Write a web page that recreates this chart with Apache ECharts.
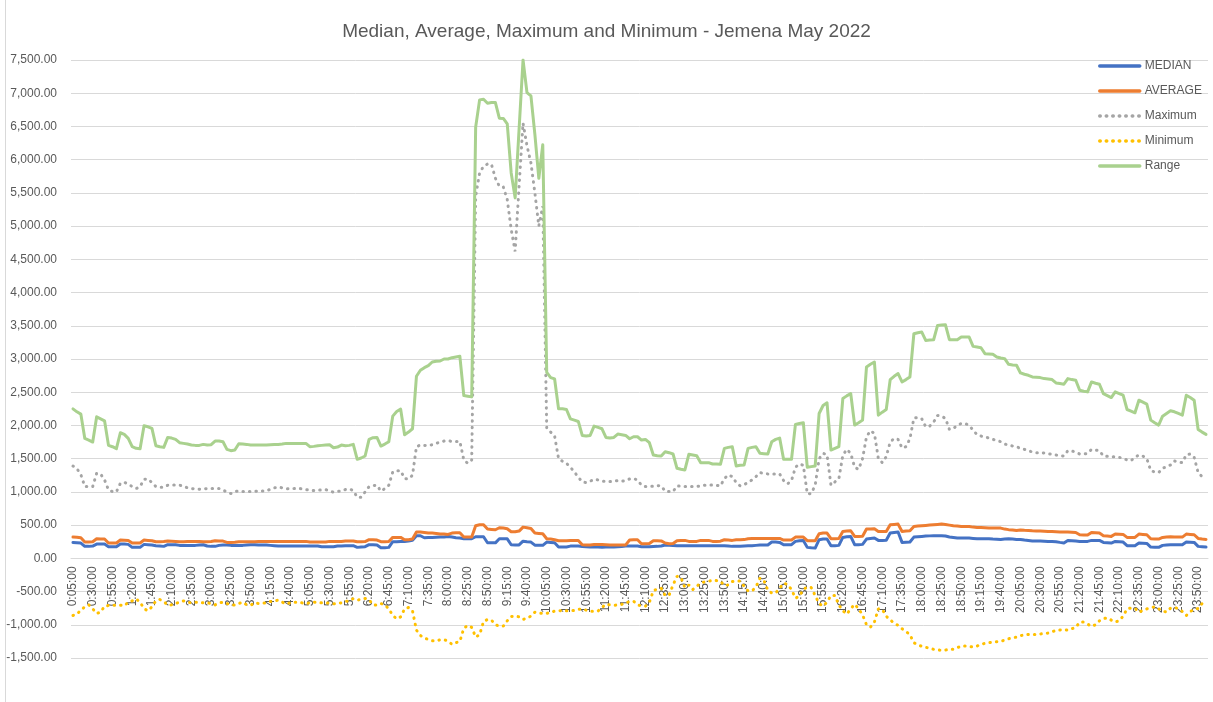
<!DOCTYPE html>
<html>
<head>
<meta charset="utf-8">
<script src="https://cdn.jsdelivr.net/npm/echarts@6/dist/echarts.min.js"></script>
<style>
html,body{margin:0;padding:0;background:#fff;}
#chart{width:1213px;height:702px;}
</style>
</head>
<body>
<div id="chart"></div>
<script>
// categories: 5-minute intervals 0:05:00 ... 0:00:00 (288)
const categories = [];
for (let m = 5; m <= 1440; m += 5) {
  const h = Math.floor(m / 60) % 24, mm = m % 60;
  categories.push(h + ':' + String(mm).padStart(2, '0') + ':00');
}

const median = [
240,235,230,180,180,185,215,215,215,175,175,175,
215,215,210,165,165,165,210,205,200,190,185,180,
205,205,205,195,195,195,195,195,200,205,185,180,
180,195,200,200,195,195,195,195,200,205,205,200,
200,200,195,190,185,185,185,185,185,185,185,185,
185,185,185,175,175,175,175,185,185,190,190,190,
165,170,175,205,205,200,160,160,165,250,250,255,
255,260,270,340,340,310,315,315,318,320,320,330,
320,310,305,295,295,295,325,325,325,235,233,233,
294,294,294,205,202,202,258,250,245,198,196,196,
245,240,235,172,172,172,184,184,184,178,175,172,
172,170,168,170,172,172,175,178,184,184,184,184,
175,175,175,178,180,185,200,195,192,190,190,190,
190,190,190,190,190,190,190,190,190,190,185,180,
180,182,185,188,190,195,200,200,200,245,245,240,
205,205,205,255,265,270,165,158,155,280,290,290,
190,190,195,315,325,330,205,205,210,290,300,305,
270,270,272,380,390,395,240,242,245,320,325,330,
335,338,340,340,340,335,320,312,305,305,305,305,
300,295,295,295,295,290,288,285,290,295,290,285,
285,275,268,262,260,260,258,255,252,250,240,232,
270,265,260,255,255,255,270,270,270,240,235,230,
255,250,245,190,190,190,230,228,225,170,168,165,
195,200,205,205,205,205,245,242,240,180,175,170
];

const average = [
320,318,310,245,245,250,295,292,290,230,230,232,
275,272,270,230,230,232,275,270,265,250,250,252,
260,258,255,250,250,252,255,255,255,250,250,252,
265,262,260,240,240,242,250,250,250,250,250,255,
255,255,255,255,255,255,255,255,255,255,255,255,
245,245,245,245,245,255,255,255,255,262,262,262,
250,250,252,280,280,275,250,250,252,315,315,315,
280,280,290,395,395,390,380,380,375,365,365,360,
380,385,385,320,320,320,490,505,505,440,435,430,
460,455,445,400,400,410,470,460,450,380,375,370,
295,290,280,265,264,264,268,270,270,205,202,202,
208,209,209,205,202,202,202,202,202,275,280,280,
220,220,222,265,265,262,230,220,222,265,268,270,
255,255,255,270,270,270,255,255,258,280,275,270,
280,280,282,295,298,300,300,300,300,300,300,300,
275,275,275,320,320,320,265,265,265,370,380,380,
295,295,298,405,410,415,330,330,332,440,442,445,
405,405,405,505,510,515,405,410,415,480,485,490,
495,500,505,510,515,510,500,490,485,480,480,480,
470,465,465,462,458,455,455,455,440,432,428,420,
428,422,420,415,412,410,408,405,402,400,398,395,
395,393,390,355,352,350,390,385,380,340,335,330,
365,362,360,315,315,315,365,360,355,295,292,290,
315,320,325,320,320,320,365,360,355,300,290,285
];

const maximum = [
1390,1350,1260,1080,1080,1080,1280,1270,1180,1030,1005,1000,
1130,1145,1115,1080,1050,1080,1190,1195,1140,1080,1070,1070,
1100,1105,1105,1100,1090,1060,1050,1045,1040,1045,1050,1050,
1050,1050,1030,995,975,1005,1015,1005,1005,1005,1005,1015,
1015,1015,1040,1060,1075,1060,1045,1050,1050,1055,1045,1035,
1025,1020,1025,1030,1035,1015,995,1005,1015,1035,1045,1020,
920,920,1000,1080,1095,1100,1010,1050,1100,1300,1320,1320,
1200,1195,1250,1680,1705,1700,1695,1710,1730,1750,1765,1770,
1760,1760,1760,1480,1430,1480,5450,5800,5900,5935,5930,5720,
5600,5590,5400,4950,4620,5600,6550,6210,5950,5500,5000,5300,
1960,1900,1840,1500,1460,1430,1370,1300,1220,1150,1140,1160,
1190,1180,1160,1160,1155,1160,1170,1160,1170,1195,1200,1180,
1100,1080,1080,1085,1095,1090,1010,1005,1005,1090,1085,1080,
1080,1080,1080,1090,1100,1100,1105,1100,1090,1200,1255,1230,
1140,1090,1110,1140,1180,1230,1290,1280,1270,1270,1270,1270,
1170,1120,1170,1370,1420,1400,970,975,1100,1500,1580,1560,
1100,1150,1200,1550,1640,1580,1370,1340,1500,1830,1920,1880,
1500,1440,1530,1750,1805,1790,1660,1680,1800,2110,2120,2100,
1980,1990,2050,2150,2140,2105,1940,1955,2000,2030,2030,2000,
1930,1860,1840,1830,1810,1790,1775,1755,1720,1705,1690,1680,
1655,1640,1620,1600,1590,1590,1585,1575,1565,1555,1545,1540,
1620,1615,1600,1570,1570,1580,1640,1630,1620,1540,1535,1530,
1530,1520,1505,1480,1470,1520,1555,1540,1500,1320,1300,1290,
1355,1380,1405,1465,1450,1440,1560,1570,1520,1290,1230,1230
];

const minimum = [
-860,-840,-780,-730,-700,-760,-830,-810,-720,-710,-705,-705,
-705,-715,-660,-640,-610,-660,-760,-790,-730,-640,-620,-650,
-705,-700,-680,-660,-640,-660,-670,-660,-660,-670,-670,-680,
-700,-670,-660,-680,-700,-705,-680,-660,-700,-705,-670,-680,
-675,-670,-650,-640,-630,-660,-685,-670,-660,-660,-670,-680,
-670,-660,-665,-670,-670,-675,-685,-675,-670,-650,-640,-605,
-630,-615,-605,-625,-700,-705,-680,-700,-760,-860,-910,-880,
-760,-740,-790,-1080,-1160,-1200,-1220,-1240,-1245,-1225,-1225,-1245,
-1295,-1270,-1250,-1050,-1010,-1040,-1185,-1150,-950,-920,-930,-1000,
-1020,-1020,-940,-875,-870,-880,-920,-900,-870,-810,-820,-830,
-830,-810,-795,-790,-785,-790,-790,-785,-770,-760,-780,-795,
-795,-793,-740,-690,-700,-708,-700,-693,-665,-655,-645,-700,
-715,-720,-660,-490,-460,-450,-560,-555,-400,-270,-290,-440,
-400,-470,-420,-370,-355,-345,-330,-335,-345,-410,-400,-350,
-342,-342,-420,-490,-492,-430,-300,-330,-480,-522,-522,-450,
-375,-390,-470,-600,-570,-470,-430,-440,-560,-680,-720,-660,
-560,-560,-700,-790,-840,-760,-690,-760,-850,-1000,-1035,-960,
-760,-770,-870,-930,-970,-1010,-1060,-1100,-1150,-1270,-1300,-1325,
-1340,-1350,-1370,-1378,-1385,-1380,-1370,-1370,-1345,-1320,-1320,-1325,
-1335,-1320,-1295,-1280,-1268,-1262,-1255,-1250,-1230,-1210,-1198,-1185,
-1162,-1155,-1145,-1145,-1145,-1138,-1132,-1125,-1105,-1085,-1078,-1074,
-1082,-1060,-1040,-960,-960,-990,-1024,-1000,-940,-908,-895,-930,
-958,-940,-870,-760,-748,-750,-810,-785,-760,-745,-730,-760,
-795,-808,-750,-740,-758,-800,-860,-800,-770,-755,-680,-700
];

const range = [
2250,2205,2170,1805,1780,1750,2130,2100,2070,1700,1680,1650,
1890,1865,1805,1680,1655,1650,1995,1980,1955,1695,1680,1670,
1820,1810,1790,1740,1730,1720,1705,1700,1700,1715,1705,1710,
1765,1765,1755,1640,1620,1630,1725,1720,1715,1705,1705,1705,
1705,1705,1710,1715,1715,1720,1730,1730,1730,1730,1730,1730,
1680,1685,1695,1700,1705,1710,1665,1675,1705,1695,1700,1715,
1490,1510,1540,1790,1815,1820,1690,1720,1755,2140,2210,2245,
1860,1900,1950,2740,2830,2870,2900,2955,2965,2970,3000,3000,
3020,3030,3040,2450,2440,2430,6490,6900,6910,6850,6860,6860,
6625,6620,6540,5800,5425,6460,7500,7010,6960,6380,5720,6225,
2800,2720,2700,2250,2250,2240,2100,2080,2060,1850,1840,1850,
1990,1970,1950,1820,1810,1820,1870,1860,1850,1800,1830,1830,
1780,1790,1740,1555,1545,1540,1605,1590,1570,1355,1340,1330,
1565,1555,1545,1440,1440,1440,1420,1418,1415,1655,1670,1680,
1390,1400,1405,1655,1670,1680,1580,1575,1570,1755,1790,1810,
1490,1490,1490,2015,2030,2040,1370,1380,1390,2180,2300,2340,
1630,1655,1680,2405,2445,2480,2005,2040,2080,2880,2920,2955,
2155,2200,2240,2690,2740,2780,2655,2690,2730,3380,3395,3405,
3280,3285,3290,3505,3510,3515,3290,3290,3290,3330,3330,3330,
3190,3180,3170,3080,3075,3070,3030,3015,3005,2920,2910,2905,
2790,2770,2755,2730,2725,2720,2705,2700,2690,2640,2630,2620,
2705,2690,2680,2530,2515,2505,2655,2635,2620,2480,2450,2420,
2505,2480,2455,2240,2215,2190,2380,2350,2320,2080,2040,2005,
2140,2180,2220,2205,2180,2155,2455,2420,2380,1940,1900,1865
];

const yMin = -1500, yMax = 7500, yStep = 500;
const gridTop = 60, gridBottom = 44, chartH = 702;
const textColor = '#595959';
const gridColor = '#d9d9d9';
const font = '"Liberation Sans", Arial, sans-serif';

// place the category axis at the value-axis zero line
const plotH = chartH - gridTop - gridBottom;
const zeroOffset = -plotH * (0 - yMin) / (yMax - yMin);

function fmt(v) {
  return v.toLocaleString('en-US', {minimumFractionDigits: 2, maximumFractionDigits: 2});
}

function lineSeries(name, data, color, dotted) {
  return {
    name: name,
    type: 'line',
    data: data,
    symbol: 'none',
    showSymbol: false,
    smooth: false,
    animation: false,
    lineStyle: dotted
      ? {color: color, width: 3, type: [0.5, 6], cap: 'round'}
      : {color: color, width: 3, cap: 'round', join: 'round'},
    itemStyle: {color: color}
  };
}

const legendNames = ['MEDIAN', 'AVERAGE', 'Maximum', 'Minimum', 'Range'];

const chart = echarts.init(document.getElementById('chart'), null, {renderer: 'canvas'});
chart.setOption({
  backgroundColor: '#ffffff',
  animation: false,
  title: {
    text: 'Median, Average, Maximum and Minimum - Jemena May 2022',
    left: 'center',
    top: 22,
    padding: 0,
    textStyle: {fontFamily: font, fontSize: 19, fontWeight: 'normal', color: textColor}
  },
  legend: {
    orient: 'vertical',
    left: 1098,
    top: 59,
    itemWidth: 40,
    itemHeight: 14,
    itemGap: 11,
    padding: 0,
    itemStyle: {opacity: 0},
    lineStyle: {width: 3.5},
    textStyle: {fontFamily: font, fontSize: 12, color: textColor, lineHeight: 14},
    data: legendNames
  },
  grid: {left: 71, right: 5, top: gridTop, bottom: gridBottom, containLabel: false},
  xAxis: {
    type: 'category',
    data: categories,
    boundaryGap: true,
    position: 'bottom',
    offset: zeroOffset,
    axisLine: {show: true, onZero: false, lineStyle: {color: gridColor, width: 1}},
    axisTick: {show: false},
    splitLine: {show: false},
    axisLabel: {
      interval: 4,
      rotate: 90,
      margin: 8,
      fontFamily: font,
      fontSize: 12,
      color: textColor
    }
  },
  yAxis: {
    type: 'value',
    min: yMin,
    max: yMax,
    interval: yStep,
    axisLine: {show: false},
    axisTick: {show: false},
    splitLine: {show: true, lineStyle: {color: gridColor, width: 1}},
    axisLabel: {
      margin: 14,
      fontFamily: font,
      fontSize: 12,
      color: textColor,
      formatter: fmt
    }
  },
  graphic: [{
    type: 'line',
    shape: {x1: 5.5, y1: 0, x2: 5.5, y2: 702},
    style: {stroke: gridColor, lineWidth: 1},
    silent: true
  }],
  series: [
    lineSeries('MEDIAN', median, '#4472C4', false),
    lineSeries('AVERAGE', average, '#ED7D31', false),
    lineSeries('Maximum', maximum, '#A5A5A5', true),
    lineSeries('Minimum', minimum, '#FFC000', true),
    lineSeries('Range', range, '#A9D18E', false)
  ]
});
</script>
</body>
</html>
